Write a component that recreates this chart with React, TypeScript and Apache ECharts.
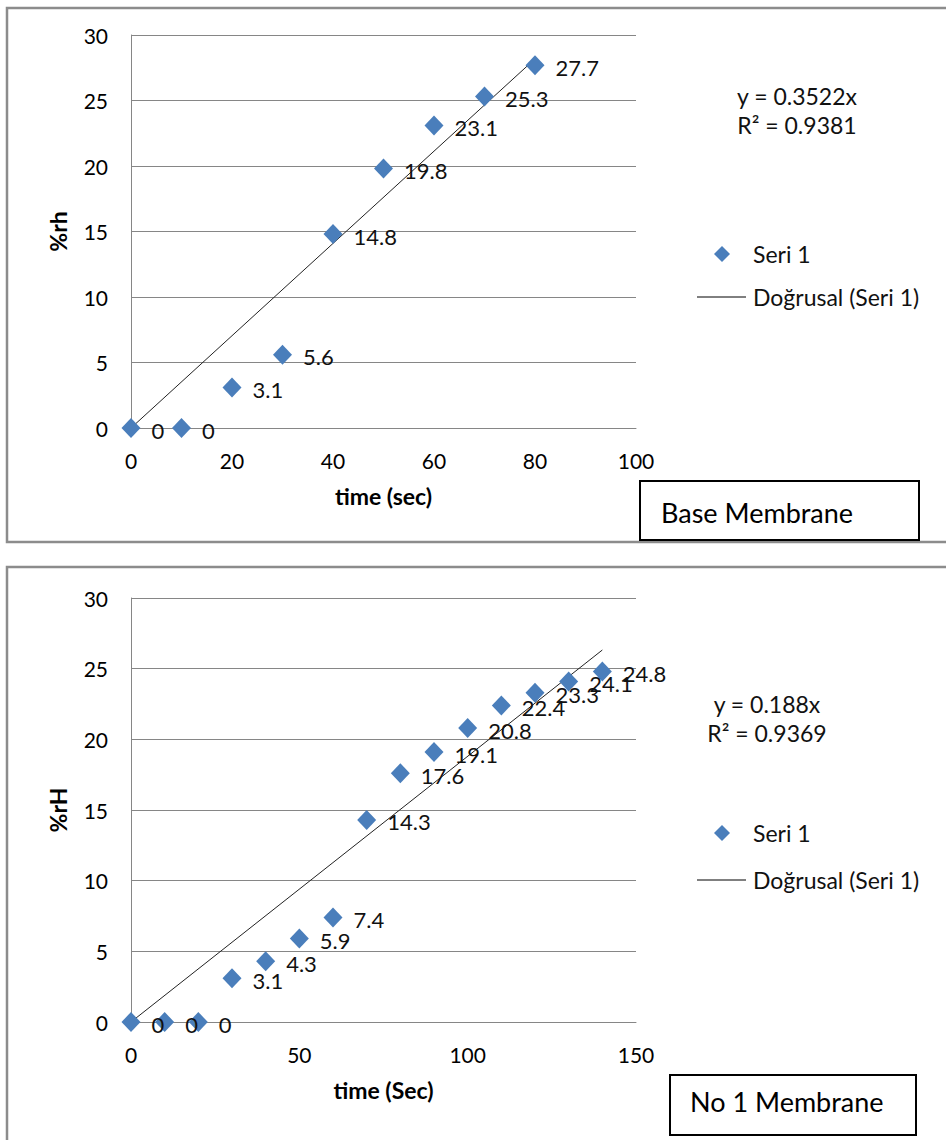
import React, { useEffect, useRef } from "react";
import * as echarts from "echarts";

// ---- data ----
const topTime = [0, 10, 20, 30, 40, 50, 60, 70, 80];
const topRh = [0, 0, 3.1, 5.6, 14.8, 19.8, 23.1, 25.3, 27.7];
const bottomTime = [0, 10, 20, 30, 40, 50, 60, 70, 80, 90, 100, 110, 120, 130, 140];
const bottomRh = [0, 0, 0, 3.1, 4.3, 5.9, 7.4, 14.3, 17.6, 19.1, 20.8, 22.4, 23.3, 24.1, 24.8];
const trendSlopes = [0.3522, 0.188];
const rSquared = ["0.9381", "0.9369"];
const xMax = [100, 150];
const xInterval = [20, 50];
const yMax = [30, 30];
const yInterval = [5, 5];
const xNames = ["time (sec)", "time (Sec)"];
const yNames = ["%rh", "%rH"];
const boxTitles = ["Base Membrane", "No 1 Membrane"];
const seriesName = "Seri 1";
const trendName = "Doğrusal (Seri 1)";

const FONT = "Lato, 'Open Sans', sans-serif";
const BLUE = "#4a7ebb";
const GRID_GRAY = "#868686";

export default function App() {
  const ref = useRef<HTMLDivElement>(null);

  useEffect(() => {
    if (!ref.current) return;
    const chart = echarts.init(ref.current, null, { renderer: "svg" });

    const grids = [
      { left: 131, top: 35, width: 505, height: 393 },
      { left: 131, top: 598, width: 505, height: 424 },
    ];

    const xAxes = [0, 1].map((i) => ({
      type: "value",
      gridIndex: i,
      min: 0,
      max: xMax[i],
      interval: xInterval[i],
      name: xNames[i],
      nameLocation: "middle",
      nameGap: 56,
      nameTextStyle: { fontFamily: FONT, fontSize: 23, fontWeight: "bold", color: "#000" },
      axisLine: { show: true, onZero: false, lineStyle: { color: GRID_GRAY, width: 1 } },
      axisTick: { show: false },
      splitLine: { show: false },
      axisLabel: { fontFamily: FONT, fontSize: 21, color: "#000", margin: 22 },
    }));

    const yAxes = [0, 1].map((i) => ({
      type: "value",
      gridIndex: i,
      min: 0,
      max: yMax[i],
      interval: yInterval[i],
      name: yNames[i],
      nameLocation: "middle",
      nameGap: 62,
      nameRotate: 90,
      nameTextStyle: { fontFamily: FONT, fontSize: 23, fontWeight: "bold", color: "#000" },
      axisLine: { show: true, lineStyle: { color: GRID_GRAY, width: 1 } },
      axisTick: { show: false },
      splitLine: { show: true, lineStyle: { color: GRID_GRAY, width: 1 } },
      axisLabel: { fontFamily: FONT, fontSize: 21, color: "#000", margin: 23 },
    }));

    const datasets = [
      { t: topTime, v: topRh },
      { t: bottomTime, v: bottomRh },
    ];

    const series: any[] = [];
    datasets.forEach((d, i) => {
      const pts = d.t.map((t, k) => [t, d.v[k]]);
      series.push({
        type: "scatter",
        name: seriesName,
        xAxisIndex: i,
        yAxisIndex: i,
        data: pts,
        symbol: "diamond",
        symbolSize: [19, 20],
        itemStyle: { color: BLUE, opacity: 1 },
        z: 3,
        label: {
          show: true,
          position: "right",
          distance: 11,
          offset: [0, 2],
          fontFamily: FONT,
          fontSize: 22,
          color: "#111",
          opacity: 1,
          formatter: (p: any) => String(p.value[1]),
        },
      });
      const lastT = d.t[d.t.length - 1];
      series.push({
        type: "line",
        name: trendName,
        xAxisIndex: i,
        yAxisIndex: i,
        data: [
          [0, 0],
          [lastT, trendSlopes[i] * lastT],
        ],
        showSymbol: false,
        symbol: "none",
        lineStyle: { color: "#222", width: 1 },
        z: 2,
      });
    });

    const legendBlock = (eqX: number, eqY: number, eqText: string, r2Text: string, diaY: number, lineY: number) => [
      {
        type: "text",
        x: eqX,
        y: eqY,
        style: { text: eqText, fontFamily: FONT, fontSize: 23, fill: "#111", align: "center", verticalAlign: "middle" },
      },
      {
        type: "text",
        x: eqX,
        y: eqY + 29,
        style: { text: r2Text, fontFamily: FONT, fontSize: 23, fill: "#111", align: "center", verticalAlign: "middle" },
      },
      {
        type: "polygon",
        shape: { points: [[722, diaY - 8], [730, diaY], [722, diaY + 8], [714, diaY]] },
        style: { fill: BLUE },
      },
      {
        type: "text",
        x: 753,
        y: diaY,
        style: { text: seriesName, fontFamily: FONT, fontSize: 23, fill: "#111", verticalAlign: "middle" },
      },
      {
        type: "line",
        shape: { x1: 697, y1: lineY, x2: 746, y2: lineY },
        style: { stroke: "#000", lineWidth: 1 },
      },
      {
        type: "text",
        x: 753,
        y: lineY,
        style: { text: trendName, fontFamily: FONT, fontSize: 23, fill: "#111", verticalAlign: "middle" },
      },
    ];

    const graphic: any[] = [
      // panel borders
      { type: "rect", shape: { x: 7, y: 8, width: 980, height: 534 }, style: { fill: "none", stroke: "#8c8c8c", lineWidth: 2.5 } },
      { type: "rect", shape: { x: 7, y: 567, width: 980, height: 640 }, style: { fill: "none", stroke: "#8c8c8c", lineWidth: 2.5 } },
      // title boxes
      { type: "rect", shape: { x: 640, y: 481, width: 279, height: 59 }, style: { fill: "#fff", stroke: "#000", lineWidth: 2 } },
      {
        type: "text",
        x: 661,
        y: 512,
        style: { text: boxTitles[0], fontFamily: FONT, fontSize: 27, fill: "#000", verticalAlign: "middle" },
      },
      { type: "rect", shape: { x: 670, y: 1075, width: 246, height: 60 }, style: { fill: "#fff", stroke: "#000", lineWidth: 2 } },
      {
        type: "text",
        x: 690,
        y: 1101,
        style: { text: boxTitles[1], fontFamily: FONT, fontSize: 27, fill: "#000", verticalAlign: "middle" },
      },
      ...legendBlock(797, 96, `y = ${trendSlopes[0]}x`, `R² = ${rSquared[0]}`, 254, 297),
      ...legendBlock(767, 704, `y = ${trendSlopes[1]}x`, `R² = ${rSquared[1]}`, 833, 880),
    ];

    chart.setOption({
      animation: false,
      backgroundColor: "#fff",
      grid: grids,
      xAxis: xAxes,
      yAxis: yAxes,
      series,
      graphic,
    });

    return () => chart.dispose();
  }, []);

  return (
    <div
      ref={ref}
      style={{ position: "fixed", left: 0, top: 0, width: 946, height: 1140 }}
    />
  );
}
